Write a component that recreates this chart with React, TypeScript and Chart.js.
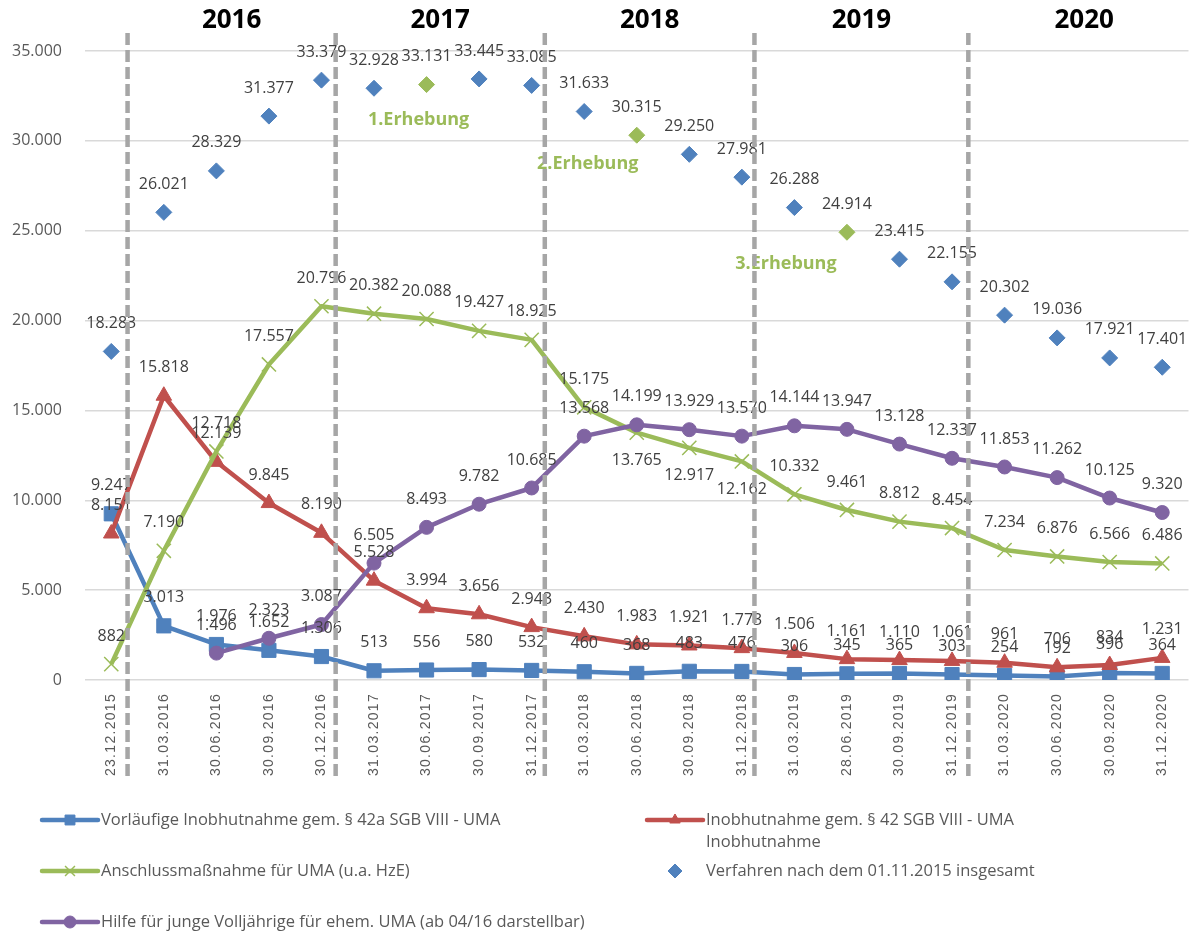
import React, { useEffect, useRef } from 'react';
import { Chart, registerables } from 'chart.js';
import { drawPoint } from 'chart.js/helpers';

Chart.register(...registerables);

// ---------- data ----------
const categories = [
  '23.12.2015', '31.03.2016', '30.06.2016', '30.09.2016', '30.12.2016',
  '31.03.2017', '30.06.2017', '30.09.2017', '31.12.2017',
  '31.03.2018', '30.06.2018', '30.09.2018', '31.12.2018',
  '31.03.2019', '28.06.2019', '30.09.2019', '31.12.2019',
  '31.03.2020', '30.06.2020', '30.09.2020', '31.12.2020',
];

const vorlaeufigeInobhutnahme = [
  9247, 3013, 1976, 1652, 1306, 513, 556, 580, 532, 460, 368, 483, 476,
  306, 345, 365, 303, 254, 192, 396, 364,
];

const inobhutnahme = [
  8151, 15818, 12139, 9845, 8190, 5528, 3994, 3656, 2943, 2430, 1983, 1921, 1773,
  1506, 1161, 1110, 1061, 961, 706, 834, 1231,
];

const anschlussmassnahme = [
  882, 7190, 12718, 17557, 20796, 20382, 20088, 19427, 18925, 15175, 13765, 12917, 12162,
  10332, 9461, 8812, 8454, 7234, 6876, 6566, 6486,
];

const hilfeVolljaehrige = [
  null, null, 1496, 2323, 3087, 6505, 8493, 9782, 10685, 13568, 14199, 13929, 13570,
  14144, 13947, 13128, 12337, 11853, 11262, 10125, 9320,
];

const verfahrenInsgesamt = [
  18283, 26021, 28329, 31377, 33379, 32928, 33131, 33445, 33085, 31633, 30315, 29250, 27981,
  26288, 24914, 23415, 22155, 20302, 19036, 17921, 17401,
];

const erhebungIndices = [6, 10, 14];
const erhebungLabels = ['1.Erhebung', '2.Erhebung', '3.Erhebung'];

const yearLabels = ['2016', '2017', '2018', '2019', '2020'];
const yearSeparatorIndices = [0, 4, 8, 12, 16];

const seriesNames = [
  'Vorläufige Inobhutnahme gem. § 42a SGB VIII - UMA',
  'Inobhutnahme gem. § 42 SGB VIII - UMA',
  'Anschlussmaßnahme für UMA (u.a. HzE)',
  'Verfahren nach dem 01.11.2015 insgesamt',
  'Hilfe für junge Volljährige für ehem. UMA (ab 04/16 darstellbar)',
];
const inobhutnahmeLegendSecondLine = 'Inobhutnahme';

// ---------- styling ----------
const BLUE = '#4F81BD';
const RED = '#C0504D';
const GREEN = '#9BBB59';
const PURPLE = '#8064A2';
const LABEL_COLOR = '#404040';
const AXIS_COLOR = '#595959';
const FONT = '"Open Sans", "DejaVu Sans", sans-serif';

// label offsets / separator fine tuning (not data)
const separatorFraction = [0.31, 0.27, 0.25, 0.24, 0.31];
const greenLabelsBelow = [10, 11, 12];
const erhebungOffsets = [
  { dx: -8, dy: 35 },
  { dx: -49, dy: 29 },
  { dx: -61, dy: 32 },
];

const fmt = (v: number) => String(Math.round(v)).replace(/\B(?=(\d{3})+(?!\d))/g, '.');

const overlayPlugin = {
  id: 'overlay',
  afterDatasetsDraw(chart: any) {
    const ctx = chart.ctx as CanvasRenderingContext2D;
    const xScale = chart.scales.x;
    const yScale = chart.scales.y;
    const area = chart.chartArea;

    // data labels
    ctx.save();
    ctx.font = `16px ${FONT}`;
    ctx.fillStyle = LABEL_COLOR;
    ctx.textAlign = 'center';
    ctx.textBaseline = 'middle';
    chart.data.datasets.forEach((ds: any, di: number) => {
      const meta = chart.getDatasetMeta(di);
      meta.data.forEach((el: any, i: number) => {
        const v = ds.data[i];
        if (v === null || v === undefined) return;
        const below = ds.labelBelow && ds.labelBelow.includes(i);
        ctx.fillText(fmt(v), el.x, el.y + (below ? 28 : -28));
      });
    });
    ctx.restore();

    // Erhebung annotations, anchored to the highlighted diamonds
    ctx.save();
    ctx.font = `bold 18px ${FONT}`;
    ctx.fillStyle = GREEN;
    ctx.textAlign = 'center';
    ctx.textBaseline = 'middle';
    erhebungIndices.forEach((idx, k) => {
      const x = xScale.getPixelForValue(idx) + erhebungOffsets[k].dx;
      const y = yScale.getPixelForValue(verfahrenInsgesamt[idx]) + erhebungOffsets[k].dy;
      ctx.fillText(erhebungLabels[k], x, y);
    });
    ctx.restore();

    // x labels (rotated)
    ctx.save();
    ctx.font = `14px "Liberation Sans", Arial, sans-serif`;
    (ctx as any).letterSpacing = '1.3px';
    ctx.fillStyle = AXIS_COLOR;
    ctx.textAlign = 'right';
    ctx.textBaseline = 'middle';
    categories.forEach((c, i) => {
      const x = xScale.getPixelForValue(i);
      ctx.save();
      ctx.translate(x, area.bottom + 13);
      ctx.rotate(-Math.PI / 2);
      ctx.fillText(c, 0, 0);
      ctx.restore();
    });
    ctx.restore();

    // separators and year labels
    const step = xScale.getPixelForValue(1) - xScale.getPixelForValue(0);
    const sepX = yearSeparatorIndices.map((idx, k) => xScale.getPixelForValue(idx) + step * separatorFraction[k]);
    ctx.save();
    ctx.font = `bold 26px ${FONT}`;
    ctx.fillStyle = '#000000';
    ctx.textAlign = 'center';
    ctx.textBaseline = 'middle';
    yearLabels.forEach((yl, k) => {
      const x0 = sepX[k];
      const x1 = k + 1 < sepX.length ? sepX[k + 1] : chart.width;
      ctx.fillText(yl, (x0 + x1) / 2, 21);
    });
    ctx.restore();

    ctx.save();
    ctx.strokeStyle = '#A6A6A6';
    ctx.lineWidth = 4.5;
    ctx.setLineDash([12, 5]);
    sepX.forEach((x) => {
      ctx.beginPath();
      ctx.moveTo(x, 33);
      ctx.lineTo(x, area.bottom + 97);
      ctx.stroke();
    });
    ctx.restore();

    // legend
    const ds = chart.data.datasets;
    const legendItems = [
      { d: ds[0], x: 42, y: 820, text: [seriesNames[0]], line: true },
      { d: ds[1], x: 647, y: 820, text: [seriesNames[1], inobhutnahmeLegendSecondLine], line: true },
      { d: ds[2], x: 42, y: 871, text: [seriesNames[2]], line: true },
      { d: ds[4], x: 647, y: 871, text: [seriesNames[3]], line: false },
      { d: ds[3], x: 42, y: 922, text: [seriesNames[4]], line: true },
    ];
    ctx.save();
    legendItems.forEach((it) => {
      const color = it.d.borderColor;
      const mx = it.x + 28;
      if (it.line) {
        ctx.save();
        ctx.strokeStyle = color;
        ctx.lineWidth = 4.5;
        ctx.lineCap = 'round';
        ctx.beginPath();
        ctx.moveTo(it.x, it.y);
        ctx.lineTo(it.x + 56, it.y);
        ctx.stroke();
        ctx.restore();
      }
      ctx.save();
      ctx.fillStyle = Array.isArray(it.d.pointBackgroundColor) ? BLUE : it.d.pointBackgroundColor;
      ctx.strokeStyle = Array.isArray(it.d.pointBorderColor) ? BLUE : it.d.pointBorderColor;
      ctx.lineWidth = it.d.pointBorderWidth || 1;
      drawPoint(ctx, { pointStyle: it.d.pointStyle, radius: it.d.legendRadius, rotation: 0, borderWidth: ctx.lineWidth }, mx, it.y);
      ctx.restore();
      ctx.font = `16.5px ${FONT}`;
      ctx.fillStyle = AXIS_COLOR;
      ctx.textAlign = 'left';
      ctx.textBaseline = 'middle';
      it.text.forEach((t, li) => ctx.fillText(t, it.x + 59, it.y + li * 22));
    });
    ctx.restore();
  },
};

export default function App() {
  const ref = useRef<HTMLCanvasElement | null>(null);

  useEffect(() => {
    if (!ref.current) return;
    const diamondColors = verfahrenInsgesamt.map((_, i) => (erhebungIndices.includes(i) ? GREEN : BLUE));
    const chart = new Chart(ref.current, {
      type: 'line',
      data: {
        labels: categories,
        datasets: [
          {
            label: seriesNames[0],
            data: vorlaeufigeInobhutnahme,
            borderColor: BLUE,
            backgroundColor: BLUE,
            pointBackgroundColor: BLUE,
            pointBorderColor: BLUE,
            borderWidth: 4.5,
            pointStyle: 'rect',
            pointRadius: 10,
            pointBorderWidth: 1,
            legendRadius: 7,
            borderJoinStyle: 'round',
            order: 4,
          } as any,
          {
            label: seriesNames[1],
            data: inobhutnahme,
            borderColor: RED,
            backgroundColor: RED,
            pointBackgroundColor: RED,
            pointBorderColor: RED,
            borderWidth: 4.5,
            pointStyle: 'triangle',
            pointRadius: 9,
            pointBorderWidth: 1,
            legendRadius: 6,
            borderJoinStyle: 'round',
            order: 3,
          } as any,
          {
            label: seriesNames[2],
            data: anschlussmassnahme,
            borderColor: GREEN,
            backgroundColor: GREEN,
            pointBackgroundColor: GREEN,
            pointBorderColor: GREEN,
            borderWidth: 4.5,
            pointStyle: 'crossRot',
            pointRadius: 10,
            pointBorderWidth: 1.5,
            legendRadius: 7,
            borderJoinStyle: 'round',
            labelBelow: greenLabelsBelow,
            order: 2,
          } as any,
          {
            label: seriesNames[4],
            data: hilfeVolljaehrige,
            borderColor: PURPLE,
            backgroundColor: PURPLE,
            pointBackgroundColor: PURPLE,
            pointBorderColor: PURPLE,
            borderWidth: 4.5,
            pointStyle: 'circle',
            pointRadius: 7,
            pointBorderWidth: 1,
            legendRadius: 6,
            borderJoinStyle: 'round',
            order: 1,
          } as any,
          {
            label: seriesNames[3],
            data: verfahrenInsgesamt,
            showLine: false,
            borderColor: BLUE,
            backgroundColor: BLUE,
            pointBackgroundColor: diamondColors,
            pointBorderColor: diamondColors,
            pointStyle: 'rectRot',
            pointRadius: 8,
            pointBorderWidth: 1,
            legendRadius: 7,
            order: 0,
          } as any,
        ],
      },
      options: {
        animation: false,
        responsive: false,
        devicePixelRatio: 1,
        layout: { padding: { top: 51, right: 6, left: 0, bottom: 0 } },
        plugins: { legend: { display: false }, tooltip: { enabled: false } },
        elements: { line: { tension: 0 } },
        scales: {
          x: {
            type: 'category',
            offset: true,
            grid: { display: false },
            border: { display: false },
            ticks: { display: false },
            afterFit: (s: any) => { s.height = 256; },
          },
          y: {
            min: 0,
            max: 35000,
            ticks: {
              stepSize: 5000,
              callback: (v: any) => fmt(Number(v)),
              color: AXIS_COLOR,
              font: { family: FONT, size: 16 },
              padding: 23,
            },
            grid: { color: '#D9D9D9', lineWidth: 1.5, drawTicks: false },
            border: { display: false },
            afterFit: (s: any) => { s.width = 85; },
          },
        },
      } as any,
      plugins: [overlayPlugin],
    });
    return () => chart.destroy();
  }, []);

  return (
    <div style={{ position: 'absolute', left: 0, top: 0, width: 1200, height: 936, background: '#fff' }}>
      <canvas ref={ref} width={1200} height={936} style={{ display: 'block', width: 1200, height: 936 }} />
    </div>
  );
}
